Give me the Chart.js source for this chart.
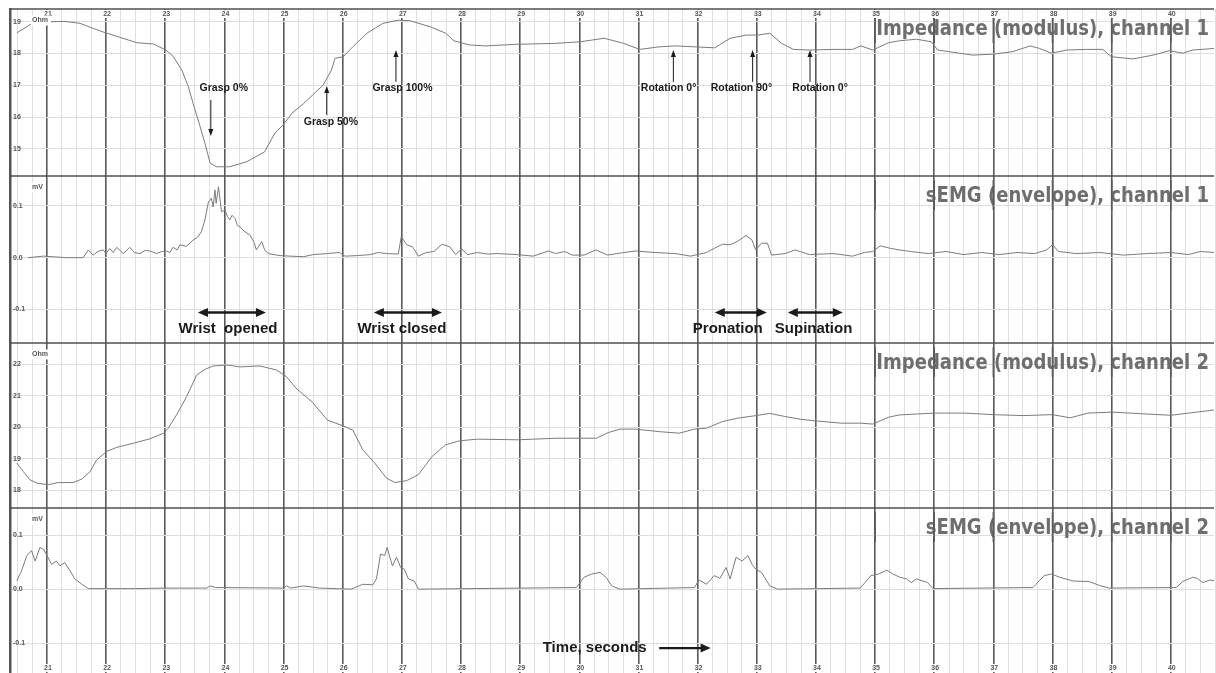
<!DOCTYPE html>
<html><head><meta charset="utf-8">
<script src="https://cdn.jsdelivr.net/npm/chart.js@4.4.0/dist/chart.umd.min.js"></script>
<style>html,body{margin:0;padding:0;background:#fff;overflow:hidden}canvas{display:block}</style>
</head><body>
<canvas id="c" width="1216" height="673"></canvas>
<script>
// ---------- data (seconds / value) ----------
const imp1Time = [20.49,20.71,20.77,21.05,21.30,21.56,21.78,22.01,22.23,22.52,22.80,23.01,23.13,23.28,23.39,23.47,23.59,23.67,23.76,23.87,24.09,24.38,24.68,24.85,24.99,25.14,25.34,25.67,25.81,25.87,26.01,26.17,26.41,26.68,26.94,27.14,27.48,27.74,27.88,28.14,28.41,28.94,29.61,30.02,30.42,30.75,31.02,31.35,31.62,31.95,32.29,32.55,32.82,33.02,33.22,33.42,33.62,33.89,34.29,34.62,34.76,34.96,35.23,35.41,35.70,35.95,36.06,36.32,36.65,36.99,37.33,37.62,37.78,37.98,38.24,38.57,38.85,38.99,39.36,39.70,39.98,40.20,40.37,40.74];
const imp1Value = [18.65,18.90,18.97,19.00,19.01,18.95,18.79,18.64,18.51,18.34,18.30,18.11,17.92,17.48,16.96,16.43,15.70,15.18,14.55,14.44,14.44,14.60,14.91,15.49,15.75,16.12,16.43,17.01,17.48,17.85,17.90,18.21,18.64,18.95,19.05,19.03,18.84,18.64,18.40,18.27,18.24,18.29,18.32,18.37,18.48,18.32,18.13,18.21,18.24,18.21,18.18,18.48,18.58,18.58,18.64,18.32,18.13,18.11,18.13,18.13,18.24,18.11,18.34,18.40,18.45,18.37,18.11,18.04,17.95,17.98,18.06,18.24,18.16,18.01,18.11,18.13,18.13,17.90,17.83,17.95,18.09,18.01,18.11,18.16];

const emg1Time = [20.68,20.94,21.33,21.61,21.70,21.78,21.86,21.95,22.00,22.06,22.12,22.18,22.29,22.40,22.48,22.57,22.66,22.74,22.85,22.94,23.02,23.08,23.13,23.20,23.25,23.36,23.47,23.55,23.61,23.67,23.73,23.78,23.81,23.84,23.86,23.90,23.95,24.01,24.05,24.09,24.13,24.18,24.22,24.26,24.30,24.35,24.43,24.50,24.54,24.63,24.68,24.74,24.94,25.11,25.34,25.50,25.74,25.94,26.04,26.25,26.47,26.60,26.74,26.94,26.99,27.08,27.18,27.28,27.41,27.54,27.68,27.81,27.91,28.01,28.11,28.28,28.45,28.61,28.95,29.22,29.48,29.60,29.75,29.88,30.08,30.28,30.48,30.75,30.95,31.28,31.62,31.88,32.15,32.28,32.42,32.55,32.68,32.82,32.92,32.98,33.08,33.18,33.25,33.48,33.65,33.89,34.29,34.62,34.82,34.96,35.09,35.26,35.41,35.60,35.90,36.20,36.50,36.80,37.10,37.40,37.70,37.90,38.00,38.10,38.40,38.80,39.20,39.60,40.00,40.30,40.50,40.74];
const emg1Value = [0.000,0.003,0.000,0.000,0.015,0.005,0.012,0.015,0.008,0.018,0.010,0.020,0.008,0.020,0.010,0.008,0.014,0.013,0.008,0.012,0.013,0.010,0.020,0.015,0.025,0.022,0.034,0.040,0.050,0.073,0.108,0.115,0.098,0.131,0.105,0.137,0.089,0.092,0.080,0.073,0.082,0.076,0.062,0.060,0.055,0.050,0.044,0.030,0.015,0.031,0.015,0.008,0.004,0.003,0.002,0.006,0.008,0.010,0.003,0.004,0.006,0.010,0.008,0.007,0.041,0.025,0.021,0.003,0.010,0.012,0.026,0.021,0.006,0.017,0.006,0.010,0.007,0.008,0.006,0.003,0.013,0.008,0.012,0.005,0.005,0.015,0.005,0.010,0.013,0.010,0.008,0.003,0.010,0.018,0.026,0.025,0.032,0.043,0.034,0.015,0.028,0.028,0.005,0.008,0.015,0.006,0.008,0.003,0.010,0.012,0.023,0.018,0.015,0.012,0.008,0.012,0.006,0.010,0.006,0.010,0.008,0.015,0.025,0.012,0.008,0.010,0.005,0.008,0.010,0.006,0.012,0.010];

const imp2Time = [20.49,20.60,20.71,20.83,21.02,21.19,21.44,21.59,21.73,21.84,22.01,22.18,22.46,22.74,22.97,23.05,23.19,23.36,23.53,23.67,23.81,24.04,24.26,24.60,24.88,25.05,25.21,25.48,25.74,26.01,26.17,26.34,26.54,26.74,26.88,27.08,27.28,27.51,27.74,27.98,28.28,28.95,29.62,30.29,30.49,30.69,30.95,31.35,31.69,31.95,32.15,32.42,32.68,32.95,33.22,33.48,33.75,34.01,34.42,34.75,34.96,35.23,35.41,35.70,36.00,36.50,37.00,37.50,38.00,38.30,38.60,39.00,39.50,40.00,40.30,40.74];
const imp2Value = [18.86,18.59,18.33,18.22,18.17,18.24,18.24,18.35,18.59,18.96,19.23,19.36,19.49,19.63,19.81,19.97,20.39,20.97,21.66,21.84,21.95,21.98,21.92,21.95,21.82,21.61,21.24,20.81,20.23,20.04,19.91,19.28,18.86,18.38,18.24,18.30,18.49,19.07,19.44,19.57,19.62,19.60,19.65,19.65,19.83,19.94,19.94,19.86,19.81,19.94,19.97,20.18,20.29,20.36,20.44,20.34,20.25,20.20,20.13,20.13,20.10,20.32,20.39,20.42,20.45,20.45,20.40,20.37,20.40,20.30,20.45,20.48,20.43,20.38,20.45,20.55];

const emg2Time = [20.49,20.57,20.66,20.71,20.74,20.80,20.88,20.94,21.00,21.08,21.16,21.22,21.30,21.39,21.47,21.59,21.70,22.50,23.00,23.70,23.76,23.85,25.00,25.05,25.12,25.34,25.61,26.14,26.34,26.51,26.57,26.64,26.71,26.75,26.84,26.91,26.98,27.04,27.11,27.21,27.28,29.95,30.08,30.21,30.35,30.45,30.55,30.68,31.95,32.02,32.15,32.28,32.38,32.48,32.55,32.65,32.75,32.85,32.92,32.98,33.08,33.22,33.35,34.75,34.93,35.06,35.20,35.30,35.42,35.53,35.61,35.70,35.81,35.89,35.98,37.67,37.72,37.86,37.98,38.12,38.35,38.62,38.79,38.96,40.09,40.20,40.37,40.45,40.54,40.66,40.75];
const emg2Value = [0.015,0.034,0.062,0.068,0.071,0.052,0.077,0.074,0.062,0.046,0.052,0.043,0.049,0.034,0.019,0.009,0.001,0.001,0.002,0.002,0.006,0.003,0.002,0.006,0.002,0.006,0.002,0.000,0.009,0.008,0.019,0.065,0.062,0.077,0.043,0.059,0.040,0.037,0.019,0.015,0.000,0.003,0.022,0.028,0.031,0.022,0.006,0.000,0.003,0.017,0.009,0.025,0.020,0.040,0.019,0.059,0.052,0.062,0.046,0.037,0.031,0.006,0.000,0.002,0.025,0.028,0.035,0.028,0.022,0.019,0.012,0.019,0.015,0.012,0.001,0.003,0.009,0.025,0.028,0.022,0.015,0.014,0.007,0.002,0.003,0.014,0.022,0.020,0.012,0.017,0.015];

// ---------- ticks / labels ----------
const secondValues = [21,22,23,24,25,26,27,28,29,30,31,32,33,34,35,36,37,38,39,40];
const secondLabels = secondValues.map(String);
const imp1Ticks = [15,16,17,18,19];
const imp1TickLabels = ['15','16','17','18','19'];
const emgTicks = [-0.1,0,0.1];
const emgTickLabels = ['-0.1','0.0','0.1'];
const imp2Ticks = [18,19,20,21,22];
const imp2TickLabels = ['18','19','20','21','22'];
const panelTitles = ['Impedance (modulus), channel 1','sEMG (envelope), channel 1','Impedance (modulus), channel 2','sEMG (envelope), channel 2'];
const panelUnits = ['Ohm','mV','Ohm','mV'];

// annotations (data units)
const pointerLabels = ['Grasp 0%','Grasp 50%','Grasp 100%','Rotation 0°','Rotation 90°','Rotation 0°'];
const pointerTextT = [23.99,25.80,27.01,31.51,32.74,34.07];
const pointerTextV = [16.92,15.85,16.92,16.92,16.92,16.92];
const pointerArrowT = [23.77,25.73,26.90,31.59,32.93,33.90];
const pointerTailV = [16.54,16.07,17.11,17.11,17.11,17.11];
const pointerHeadV = [15.41,16.98,18.11,18.11,18.11,18.11];

const moveLabels = ['Wrist  opened','Wrist closed','Pronation','Supination'];
const moveTextT = [24.06,27.00,32.51,33.96];
const moveFromT = [23.552,26.527,32.29,33.525];
const moveToT = [24.702,27.677,33.17,34.455];
const moveArrowV = -0.106, moveTextV = -0.138;

const timeLabel = 'Time, seconds';
const timeTextT = 30.26, timeFromT = 31.35, timeToT = 32.22, timeV = -0.109;

// ---------- helpers ----------
const xTicks = [];
[20].concat(secondValues).forEach(s => { [0,0.25,0.5,0.75].forEach(q => { const v = s + q; if (v >= 20.5 && v <= 40.75) xTicks.push(v); }); });
const pts = (t, v) => t.map((x, i) => ({x, y: v[i]}));
const isMajor = v => Math.abs(v - Math.round(v)) < 1e-6;
const MAJOR = '#5a5a5a';

function head(ctx, x, y, ang, len, hw) {
  ctx.beginPath();
  ctx.moveTo(x, y);
  ctx.lineTo(x - len*Math.cos(ang) + hw*Math.sin(ang), y - len*Math.sin(ang) - hw*Math.cos(ang));
  ctx.lineTo(x - len*Math.cos(ang) - hw*Math.sin(ang), y - len*Math.sin(ang) + hw*Math.cos(ang));
  ctx.closePath();
  ctx.fill();
}

const bg = {
  id: 'bg',
  beforeDraw(chart) {
    const ctx = chart.ctx;
    ctx.save(); ctx.fillStyle = '#fff'; ctx.fillRect(0, 0, chart.width, chart.height); ctx.restore();
  }
};

const overlay = {
  id: 'overlay',
  afterDraw(chart) {
    const ctx = chart.ctx, ca = chart.chartArea, xs = chart.scales.x;
    const ys = ['y1','y2','y3','y4'].map(id => chart.scales[id]);
    ctx.save();
    // panel titles, then major lines re-stroked across them
    ys.forEach((s, i) => {
      ctx.save();
      const base = s.top + 26;
      ctx.translate(ca.right - 5, base);
      ctx.scale(0.82, 1);
      ctx.font = 'bold 22px "DejaVu Sans"';
      ctx.fillStyle = '#6e6e6e';
      ctx.textAlign = 'right';
      ctx.textBaseline = 'alphabetic';
      ctx.fillText(panelTitles[i], 0, 0);
      ctx.restore();
      ctx.strokeStyle = MAJOR; ctx.lineWidth = 1.6;
      secondValues.forEach(v => {
        const px = xs.getPixelForValue(v);
        if (px > 860) { ctx.beginPath(); ctx.moveTo(px, base - 22); ctx.lineTo(px, base + 8); ctx.stroke(); }
      });
    });
    // panel separators
    ctx.strokeStyle = '#505050'; ctx.lineWidth = 1.5;
    ys.forEach(s => { ctx.beginPath(); ctx.moveTo(ca.left, s.top); ctx.lineTo(ca.right, s.top); ctx.stroke(); });
    // second labels top & bottom
    ctx.font = 'bold 7px "Liberation Sans"';
    ctx.textAlign = 'center'; ctx.textBaseline = 'middle';
    secondValues.forEach((v, i) => {
      const px = xs.getPixelForValue(v) + 1;
      const w = ctx.measureText(secondLabels[i]).width + 4;
      [ca.top + 5, ca.bottom - 5].forEach(py => {
        ctx.fillStyle = '#fff'; ctx.fillRect(px - w/2, py - 4, w, 8);
        ctx.fillStyle = '#555'; ctx.fillText(secondLabels[i], px, py);
      });
    });
    // units
    ctx.textAlign = 'left';
    ys.forEach((s, i) => {
      const px = xs.getPixelForValue(20.746), py = s.top + 11.5;
      const w = ctx.measureText(panelUnits[i]).width;
      ctx.fillStyle = '#fff'; ctx.fillRect(px - 1, py - 5, w + 4, 10);
      ctx.fillStyle = '#555'; ctx.fillText(panelUnits[i], px, py);
    });
    // pointer annotations (panel 1)
    const y1 = ys[0];
    ctx.fillStyle = '#1a1a1a'; ctx.strokeStyle = '#1a1a1a';
    ctx.font = 'bold 10.5px "Liberation Sans"'; ctx.textAlign = 'center';
    pointerLabels.forEach((lab, i) => {
      ctx.fillText(lab, xs.getPixelForValue(pointerTextT[i]), y1.getPixelForValue(pointerTextV[i]));
      const ax = xs.getPixelForValue(pointerArrowT[i]);
      const ty = y1.getPixelForValue(pointerTailV[i]), hy = y1.getPixelForValue(pointerHeadV[i]);
      const dir = hy > ty ? 1 : -1;
      ctx.lineWidth = 1;
      ctx.beginPath(); ctx.moveTo(ax, ty); ctx.lineTo(ax, hy - dir*5); ctx.stroke();
      head(ctx, ax, hy, dir > 0 ? Math.PI/2 : -Math.PI/2, 7, 2.5);
    });
    // movement double arrows (panel 2)
    const y2 = ys[1];
    ctx.font = 'bold 15px "Liberation Sans"';
    moveLabels.forEach((lab, i) => {
      const x0 = xs.getPixelForValue(moveFromT[i]), x1 = xs.getPixelForValue(moveToT[i]);
      const ay = y2.getPixelForValue(moveArrowV);
      ctx.lineWidth = 2.4;
      ctx.beginPath(); ctx.moveTo(x0 + 6, ay); ctx.lineTo(x1 - 6, ay); ctx.stroke();
      head(ctx, x1, ay, 0, 10, 4.5);
      head(ctx, x0, ay, Math.PI, 10, 4.5);
      ctx.fillText(lab, xs.getPixelForValue(moveTextT[i]), y2.getPixelForValue(moveTextV));
    });
    // time arrow (panel 4)
    const y4 = ys[3];
    const ty4 = y4.getPixelForValue(timeV);
    ctx.fillText(timeLabel, xs.getPixelForValue(timeTextT), ty4);
    const tx0 = xs.getPixelForValue(timeFromT), tx1 = xs.getPixelForValue(timeToT);
    ctx.lineWidth = 2.2;
    ctx.beginPath(); ctx.moveTo(tx0, ty4); ctx.lineTo(tx1 - 6, ty4); ctx.stroke();
    head(ctx, tx1, ty4, 0, 10, 4.5);
    ctx.restore();
  }
};

const tickFont = {size: 7, weight: 'bold', family: 'Liberation Sans'};
function yAxis(weight, stackWeight, min, max, ticks, labels) {
  return {
    type: 'linear', position: 'left', stack: 'panels', stackWeight, weight, min, max,
    afterBuildTicks: a => { a.ticks = ticks.map(v => ({value: v})); },
    afterFit: a => { a.width = 0; a.paddingTop = 0; a.paddingBottom = 0; },
    ticks: {mirror: true, padding: 3, font: tickFont, color: '#555', callback: (v, i) => labels[i]},
    grid: {color: '#dedede', lineWidth: 1, drawTicks: false},
    border: {display: true, color: '#555', width: 2.5}
  };
}

const lineDs = (t, v, axis) => ({
  data: pts(t, v), yAxisID: axis, borderColor: '#7c7c7c', borderWidth: 1,
  pointRadius: 0, tension: 0, fill: false
});

new Chart(document.getElementById('c'), {
  type: 'line',
  data: {datasets: [
    lineDs(imp1Time, imp1Value, 'y1'),
    lineDs(emg1Time, emg1Value, 'y2'),
    lineDs(imp2Time, imp2Value, 'y3'),
    lineDs(emg2Time, emg2Value, 'y4')
  ]},
  options: {
    responsive: false, animation: false, devicePixelRatio: 1,
    layout: {padding: {left: 10, top: 9, right: 2, bottom: 0}},
    plugins: {legend: {display: false}, tooltip: {enabled: false}},
    scales: {
      x: {
        type: 'linear', min: 20.375, max: 40.73,
        afterBuildTicks: a => { a.ticks = xTicks.map(v => ({value: v})); },
        afterFit: a => { a.height = 0; a.paddingLeft = 0; a.paddingRight = 0; },
        ticks: {display: false},
        grid: {
          drawTicks: false,
          color: c => isMajor(c.tick.value) ? MAJOR : '#e0e0e0',
          lineWidth: c => isMajor(c.tick.value) ? 1.6 : 1
        },
        border: {display: false}
      },
      y1: yAxis(4, 167, 14.15, 19.40, imp1Ticks, imp1TickLabels),
      y2: yAxis(3, 167, -0.165, 0.158, emgTicks, emgTickLabels),
      y3: yAxis(2, 165, 17.43, 22.68, imp2Ticks, imp2TickLabels),
      y4: yAxis(1, 165, -0.155, 0.15, emgTicks, emgTickLabels)
    }
  },
  plugins: [bg, overlay]
});
</script>
</body></html>
